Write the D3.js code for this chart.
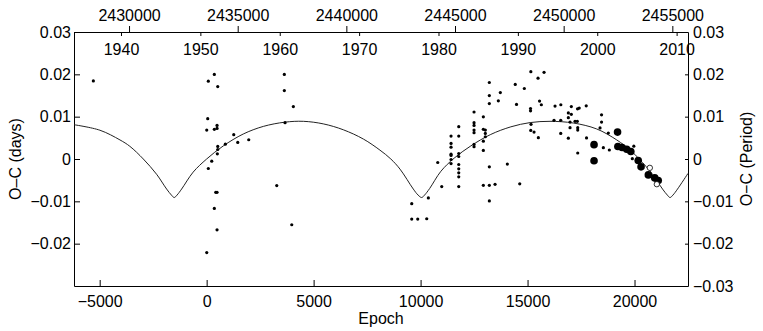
<!DOCTYPE html>
<html>
<head>
<meta charset="utf-8">
<script src="https://cdn.jsdelivr.net/npm/d3@7"></script>
<style>
body { margin: 0; background: #fff; }
svg { display: block; font-family: "Liberation Sans", Arial, Helvetica, sans-serif; }
.axis text { font-size: 16px; fill: #000; }
.axis path, .axis line { stroke: #000; stroke-width: 1; }
.label { font-size: 16px; fill: #000; }
</style>
</head>
<body>
<svg id="chart" width="763" height="331"></svg>
<script>
// ephemeris used for the top axes (JD = T0 + P * epoch)
const T0 = 2433571
const P = 0.98445

// axis ticks
const epochTicks = [-5000, 0, 5000, 10000, 15000, 20000]
const jdTicks = [2430000, 2435000, 2440000, 2445000, 2450000, 2455000]
const yearTicks = [1940, 1950, 1960, 1970, 1980, 1990, 2000, 2010]
const ocTicksLeft = [-0.02, -0.01, 0, 0.01, 0.02, 0.03]
const ocTicksRight = [-0.03, -0.02, -0.01, 0, 0.01, 0.02, 0.03]

// visual minima (small dots)
const dotEpoch = [
    -5296, 79, 360, 519, 51, 5, 360, 486, 486, 1267, 1968, 1454, 874, 519, 519, 500,
    238, 79, 425, 486, 360, 486, 5,
    3277, 3665, 3632, 3632, 4053, 3978,
    9587, 9587, 9867, 10288, 10363, 10802, 10989,
    11424, 11424, 11424, 11424, 11424, 11424, 11424,
    11784, 11784, 11784, 11784, 11784, 11784, 11784, 11784, 11784,
    12499, 12499, 12499, 12499, 12499, 12499, 12499,
    12934, 12934, 13027, 13027, 13027, 12934, 12934, 12934, 13214, 13481, 13214, 13214,
    13214, 13214, 13214, 13728, 13635, 14055, 14635,
    14425, 14850, 15154, 15490, 15771, 14485, 15140, 15140, 15560, 15645, 16285, 16556,
    17047, 17337, 17416, 17743, 16907, 17047, 18459,
    15163, 15149, 15304, 15505, 16238, 16551, 16907, 16986, 17220, 17327, 16986, 17346,
    17346, 16551, 16907, 17757, 17346, 18459, 18388, 18776, 18543, 18823, 19968, 19898
]
const dotOC = [
    0.01845, 0.01838, 0.01997, 0.01712, 0.00953, 0.00683, 0.00700, 0.00794, 0.00723, 0.00574,
    0.00455, 0.00391, 0.00351, 0.00296, 0.00225, 0.00123,
    -0.00052, -0.00225, -0.00787, -0.00787, -0.01167, -0.01672, -0.02210,
    -0.00628, 0.00858, 0.01997, 0.01617, 0.01238, -0.01553,
    -0.01055, -0.01418, -0.01418, -0.01411, -0.00920, -0.00083, -0.00652,
    0.00541, 0.00368, 0.00280, 0.00114, 0.00083, -0.00012, -0.00107,
    0.00764, 0.00541, 0.00130, 0.00059, -0.00130, -0.00232, -0.00327, -0.00422, -0.00652,
    0.01110, 0.00858, 0.00794, 0.00683, 0.00621, 0.00344, 0.00289,
    0.00996, 0.00700, 0.00683, 0.00605, 0.00526, 0.00422, 0.00202, -0.00621, -0.00621, -0.00598, -0.00991, -0.00185,
    0.01807, 0.01499, 0.01309, 0.01570, 0.01375, -0.00119, -0.00586,
    0.01762, 0.01665, 0.02063, 0.01909, 0.02047, 0.01288, 0.01193, 0.01138, 0.01368, 0.01281, 0.01250, 0.01281,
    0.01238, 0.01186, 0.01202, 0.01257, 0.01088, 0.01055, 0.01043,
    0.00818, 0.00676, 0.00636, 0.00503, 0.00913, 0.00913, 0.00977, 0.00873, 0.00889, 0.00889, 0.00740, 0.00740,
    0.00683, 0.00605, 0.00493, 0.00498, 0.00142, 0.00873, 0.00735, 0.00612, 0.00268, 0.00213, 0.00304, 0.00007
]

// ccd minima (large dots)
const ccdEpoch = [19207, 18108, 18108, 19221, 19417, 19636, 19828, 20174, 20305, 20646, 20946, 21109]
const ccdOC = [0.00636, 0.00339, -0.00043, 0.00296, 0.00273, 0.00232, 0.00178, -0.00036, -0.00185, -0.00375, -0.00446, -0.00510]

// secondary minima (open circles)
const secEpoch = [20716, 21043]
const secOC = [-0.00209, -0.00595]

// fitted light-time curve
const modelEpoch = [
    -6200, -4990, -4050, -3590, -2960, -2340, -1870, -1650, -1515, -1380, -1170, -630,
    0, 780, 1710, 2650, 3660, 4520, 5450, 6390, 7330, 8100, 8610, 9040, 9660, 9880,
    10050, 10190, 10420, 10950, 11570, 12350, 13280, 14220, 15120, 16050, 17140, 18230,
    19170, 19800, 20220, 20840, 21310, 21530, 21660, 21800, 22010, 22500
]
const modelOC = [
    0.0081, 0.0068, 0.0045, 0.0030, 0.0000, -0.0036, -0.0071, -0.0085, -0.0091, -0.0085, -0.0071, -0.0031,
    0.0000, 0.0031, 0.0059, 0.0077, 0.0087, 0.0089, 0.0083, 0.0069, 0.0047, 0.0021, 0.0000, -0.0024, -0.0071, -0.0085,
    -0.0091, -0.0085, -0.0070, -0.0029, 0.0002, 0.0031, 0.0058, 0.0076, 0.0086, 0.0089, 0.0085, 0.0071,
    0.0045, 0.0021, 0.0000, -0.0036, -0.0071, -0.0085, -0.0091, -0.0085, -0.0071, -0.0034
]

// plot frame, in pixels
const frameLeft = 74, frameRight = 688, frameTop = 32, frameBottom = 286

const svg = d3.select("#chart")

const x = d3.scaleLinear().domain([-6200, 22500]).range([frameLeft, frameRight])
const y = d3.scaleLinear().domain([-0.03, 0.03]).range([frameBottom, frameTop])

// top axes share the epoch pixel range
const jd = d3.scaleLinear()
    .domain(x.domain().map(e => T0 + P * e))
    .range(x.range())
const yearOf = j => 2000 + (j - 2451544.5) / 365.25
const year = d3.scaleLinear()
    .domain(jd.domain().map(yearOf))
    .range(x.range())

const ocFormat = v => v === 0 ? "0" : d3.format(".2f")(v)

svg.append("g")
    .attr("class", "axis")
    .attr("transform", `translate(0,${frameBottom})`)
    .call(d3.axisBottom(x).tickValues(epochTicks).tickFormat(d3.format("d"))
        .tickSizeInner(-6).tickSizeOuter(0).tickPadding(10))

svg.append("g")
    .attr("class", "axis")
    .attr("transform", `translate(0,${frameTop})`)
    .call(d3.axisTop(jd).tickValues(jdTicks).tickFormat(d3.format("d"))
        .tickSizeInner(6).tickSizeOuter(0).tickPadding(5))

svg.append("g")
    .attr("class", "axis")
    .attr("transform", `translate(0,${frameTop})`)
    .call(d3.axisBottom(year).tickValues(yearTicks).tickFormat(d3.format("d"))
        .tickSizeInner(4).tickSizeOuter(0).tickPadding(8))
    .call(g => g.select(".domain").remove())

svg.append("g")
    .attr("class", "axis")
    .attr("transform", `translate(${frameLeft},0)`)
    .call(d3.axisLeft(y).tickValues(ocTicksLeft).tickFormat(ocFormat)
        .tickSizeInner(-6).tickSizeOuter(0).tickPadding(3))

svg.append("g")
    .attr("class", "axis")
    .attr("transform", `translate(${frameRight},0)`)
    .call(d3.axisRight(y).tickValues(ocTicksRight).tickFormat(ocFormat)
        .tickSizeInner(-3).tickSizeOuter(0).tickPadding(5))

// axis titles
svg.append("text")
    .attr("class", "label")
    .attr("text-anchor", "middle")
    .attr("x", (frameLeft + frameRight) / 2)
    .attr("y", 324)
    .text("Epoch")

svg.append("text")
    .attr("class", "label")
    .attr("text-anchor", "middle")
    .attr("transform", `translate(21,${(frameTop + frameBottom) / 2}) rotate(-90)`)
    .text("O\u2013C (days)")

svg.append("text")
    .attr("class", "label")
    .attr("text-anchor", "middle")
    .attr("transform", `translate(752,${(frameTop + frameBottom) / 2}) rotate(-90)`)
    .text("O\u2212C (Period)")

// model curve
const line = d3.line()
    .x(i => x(modelEpoch[i]))
    .y(i => y(modelOC[i]))
    .curve(d3.curveCatmullRom.alpha(0.5))

svg.append("path")
    .attr("d", line(d3.range(modelEpoch.length)))
    .attr("fill", "none")
    .attr("stroke", "#222")
    .attr("stroke-width", 1)

svg.append("g").selectAll("circle")
    .data(d3.range(dotEpoch.length))
    .join("circle")
        .attr("cx", i => x(dotEpoch[i]))
        .attr("cy", i => y(dotOC[i]))
        .attr("r", 1.6)
        .attr("fill", "#000")

svg.append("g").selectAll("circle")
    .data(d3.range(ccdEpoch.length))
    .join("circle")
        .attr("cx", i => x(ccdEpoch[i]))
        .attr("cy", i => y(ccdOC[i]))
        .attr("r", 3.8)
        .attr("fill", "#000")

svg.append("g").selectAll("circle")
    .data(d3.range(secEpoch.length))
    .join("circle")
        .attr("cx", i => x(secEpoch[i]))
        .attr("cy", i => y(secOC[i]))
        .attr("r", 2.7)
        .attr("fill", "#fff")
        .attr("stroke", "#000")
        .attr("stroke-width", 0.8)
</script>
</body>
</html>
